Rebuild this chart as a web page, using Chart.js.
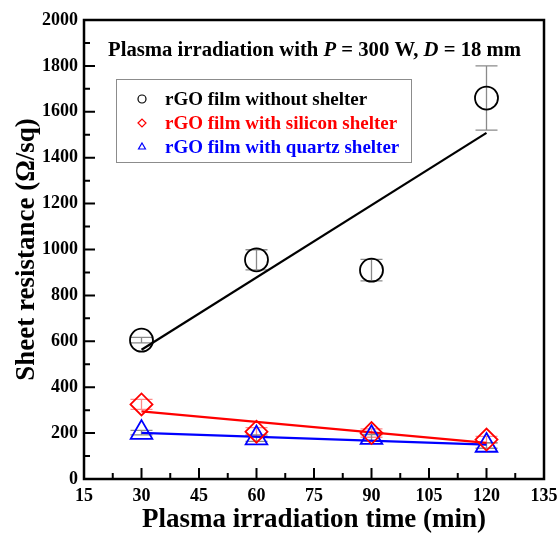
<!DOCTYPE html>
<html><head><meta charset="utf-8">
<script src="https://cdn.jsdelivr.net/npm/chart.js@4/dist/chart.umd.min.js"></script>
<style>html,body{margin:0;padding:0;background:#fff}</style>
</head><body>
<canvas id="c" width="559" height="534" style="width:559px;height:534px;display:block"></canvas>
<script>
// ---- data ----
const times = [30, 60, 90, 120];
const noShelter = [605, 955, 910, 1660];
const noShelterErr = [12, 44, 47, 140];
const silicon = [325, 206, 200, 172];
const siliconErr = [22, 18, 18, 14];
const quartz = [202, 178, 180, 146];
const quartzErr = [10, 14, 14, 12];
const fitTimes = [30, 120];
const noShelterFit = [563, 1508];
const siliconFit = [295, 157];
const quartzFit = [201, 150];
const seriesLabels = ['rGO film without shelter', 'rGO film with silicon shelter', 'rGO film with quartz shelter'];
const xTickValues = [15, 30, 45, 60, 75, 90, 105, 120, 135];
const yTickValues = [0, 200, 400, 600, 800, 1000, 1200, 1400, 1600, 1800, 2000];
const titleParts = [['Plasma irradiation with ', false], ['P', true], [' = 300 W, ', false], ['D', true], [' = 18 mm', false]];
const xTitle = 'Plasma irradiation time (min)';
const yTitle = 'Sheet resistance (\u03A9/sq)';

const colors = ['#000000', '#ff0000', '#0000ff'];
const errColors = ['#8a8a8a', '#ff8a8a', '#8a8a8a'];
const shapes = ['circle', 'rectRot', 'triangle'];
const radii = [11.5, 11, 12.5];
const values = [noShelter, silicon, quartz];
const errors = [noShelterErr, siliconErr, quartzErr];
const fits = [noShelterFit, siliconFit, quartzFit];
const SERIF = '"Liberation Serif", "Times New Roman", serif';

const pts = (xs, ys) => xs.map((x, i) => ({x, y: ys[i]}));

const datasets = [];
for (let i = 0; i < 3; i++) {
  datasets.push({
    label: seriesLabels[i], data: pts(times, values[i]), showLine: false,
    pointStyle: shapes[i], pointRadius: radii[i], pointHoverRadius: radii[i],
    pointBorderColor: colors[i], pointBackgroundColor: 'rgba(0,0,0,0)', pointBorderWidth: 1.8,
    borderColor: colors[i], backgroundColor: 'rgba(0,0,0,0)'
  });
}
for (let i = 0; i < 3; i++) {
  datasets.push({
    label: 'fit ' + i, data: pts(fitTimes, fits[i]), showLine: true,
    pointRadius: 0, borderColor: colors[i], borderWidth: 2.2, fill: false
  });
}

const deco = {
  id: 'deco',
  beforeDatasetsDraw(chart) {
    const ctx = chart.ctx, xs = chart.scales.x, ys = chart.scales.y;
    ctx.save();
    ctx.lineWidth = 1.3;
    for (let i = 0; i < 3; i++) {
      ctx.strokeStyle = errColors[i];
      times.forEach((t, j) => {
        const x = xs.getPixelForValue(t);
        const y1 = ys.getPixelForValue(values[i][j] + errors[i][j]);
        const y2 = ys.getPixelForValue(values[i][j] - errors[i][j]);
        ctx.beginPath();
        ctx.moveTo(x, y1); ctx.lineTo(x, y2);
        ctx.moveTo(x - 11, y1); ctx.lineTo(x + 11, y1);
        ctx.moveTo(x - 11, y2); ctx.lineTo(x + 11, y2);
        ctx.stroke();
      });
    }
    ctx.restore();
  },
  afterDatasetsDraw(chart) {
    const ctx = chart.ctx, xs = chart.scales.x, ys = chart.scales.y, a = chart.chartArea;
    ctx.save();
    // frame
    ctx.strokeStyle = '#000'; ctx.lineWidth = 2.5;
    ctx.strokeRect(a.left, a.top, a.right - a.left, a.bottom - a.top);
    // inward ticks
    ctx.lineWidth = 2;
    ctx.beginPath();
    for (let k = 0; k < xTickValues.length; k++) {
      const v = xTickValues[k];
      const x = xs.getPixelForValue(v);
      ctx.moveTo(x, a.bottom); ctx.lineTo(x, a.bottom - 11);
      if (k < xTickValues.length - 1) {
        const xm = xs.getPixelForValue((v + xTickValues[k + 1]) / 2);
        ctx.moveTo(xm, a.bottom); ctx.lineTo(xm, a.bottom - 6);
      }
    }
    for (let k = 0; k < yTickValues.length; k++) {
      const v = yTickValues[k];
      const y = ys.getPixelForValue(v);
      ctx.moveTo(a.left, y); ctx.lineTo(a.left + 11, y);
      if (k < yTickValues.length - 1) {
        const ym = ys.getPixelForValue((v + yTickValues[k + 1]) / 2);
        ctx.moveTo(a.left, ym); ctx.lineTo(a.left + 6, ym);
      }
    }
    ctx.stroke();
    // title with italic parts
    ctx.fillStyle = '#000';
    ctx.textBaseline = 'alphabetic';
    let tx = a.left + 24;
    const ty = a.top + 36;
    for (const [t, it] of titleParts) {
      ctx.font = (it ? 'italic ' : '') + 'bold 20.7px ' + SERIF;
      ctx.fillText(t, tx, ty);
      tx += ctx.measureText(t).width;
    }
    // legend
    const lx = a.left + 32, ly = a.top + 59, lw = 295, lh = 83;
    ctx.strokeStyle = '#8c8c8c'; ctx.lineWidth = 1;
    ctx.strokeRect(lx + 0.5, ly + 0.5, lw, lh);
    ctx.font = 'bold 19px ' + SERIF;
    ctx.textBaseline = 'middle';
    for (let i = 0; i < 3; i++) {
      const cy = ly + 20 + i * 24;
      const cx = lx + 26;
      ctx.strokeStyle = colors[i]; ctx.fillStyle = 'rgba(0,0,0,0)'; ctx.lineWidth = 1.2;
      Chart.helpers.drawPoint(ctx, {pointStyle: shapes[i], radius: 4, borderWidth: 1.2}, cx, cy);
      ctx.fillStyle = colors[i];
      ctx.fillText(seriesLabels[i], lx + 49, cy + 1);
    }
    ctx.restore();
  }
};

new Chart(document.getElementById('c'), {
  type: 'scatter',
  data: {datasets},
  plugins: [deco],
  options: {
    responsive: false, animation: false, devicePixelRatio: 1,
    layout: {padding: {top: 20, right: 15, left: 0, bottom: 0}},
    plugins: {legend: {display: false}, tooltip: {enabled: false}},
    scales: {
      x: {
        type: 'linear', min: 15, max: 135,
        afterFit: s => { s.height = 55; s.paddingRight = 0; s.paddingLeft = 0; },
        afterBuildTicks: s => { s.ticks = xTickValues.map(v => ({value: v})); },
        grid: {display: false, drawTicks: false}, border: {display: false},
        ticks: {color: '#000', padding: 7, autoSkip: false, maxRotation: 0,
          callback: v => String(v),
          font: {family: SERIF, size: 18, weight: 'bold'}},
        title: {display: true, text: xTitle, color: '#000', padding: {top: 0, bottom: 0},
          font: {family: SERIF, size: 27, weight: 'bold', lineHeight: 1.0}}
      },
      y: {
        type: 'linear', min: 0, max: 2000,
        afterFit: s => { s.width = 84; s.paddingTop = 0; s.paddingBottom = 0; },
        afterBuildTicks: s => { s.ticks = yTickValues.map(v => ({value: v})); },
        grid: {display: false, drawTicks: false}, border: {display: false},
        ticks: {color: '#000', padding: 6, callback: v => String(v),
          font: {family: SERIF, size: 18, weight: 'bold'}},
        title: {display: true, text: yTitle, color: '#000', padding: {top: 12, bottom: 0},
          font: {family: SERIF, size: 27, weight: 'bold', lineHeight: 1.1}}
      }
    }
  }
});
</script>
</body></html>
